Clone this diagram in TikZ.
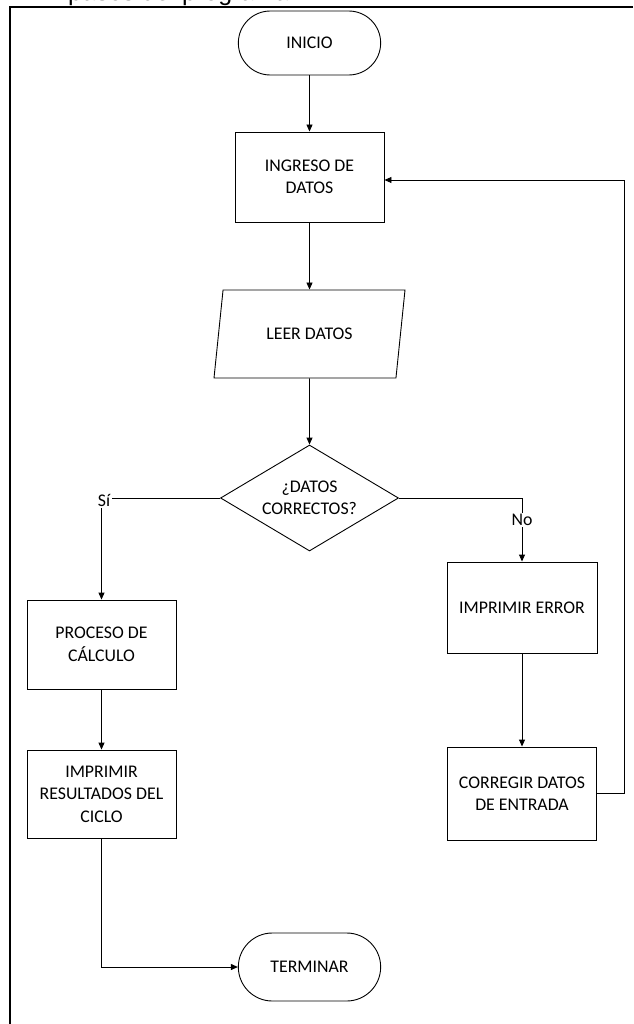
\documentclass[tikz,border=0pt]{standalone}
\usepackage{fontspec}
\setmainfont{Carlito}
\newfontfamily\arialfont{Liberation Sans}
\usetikzlibrary{arrows.meta,shapes.geometric,shapes.misc}
\tikzset{
  txt/.style={font=\fontsize{17.8}{22.5}\selectfont, text=black},
  box/.style={txt, draw=black, line width=0.9pt, rectangle, minimum width=149pt, minimum height=90pt, align=center, inner sep=2pt},
  termbox/.style={txt, draw=black, line width=0.9pt, rounded rectangle, minimum width=149pt, minimum height=64pt, align=center},
  parabox/.style={txt, draw=black, line width=0.9pt, trapezium, trapezium left angle=60, trapezium right angle=120, trapezium stretches body=true, minimum width=191pt, minimum height=88pt, align=center, inner sep=2pt},
  decbox/.style={txt, draw=black, line width=0.9pt, diamond, shape aspect=1.68, minimum width=178pt, minimum height=106pt, inner sep=0pt, align=center},
  lbl/.style={txt, inner sep=1.5pt},
  conn/.style={draw=black, line width=0.9pt},
  arr/.style={conn, -{Triangle[length=7pt,width=6pt]}},
}
\begin{document}
\begin{tikzpicture}[x=1pt,y=-1pt]
\useasboundingbox (0,0) rectangle (633,1024);
% caption fragment and frame
\node[anchor=base west, inner sep=0pt, font=\arialfont\fontsize{25}{30}\selectfont] (cap) at (68,0.5) {pasos del programa};
\draw[line width=2pt] (633,7) -- (9.5,7) -- (9.5,1024);

% nodes
\node[termbox] (inicio) at (309.5,43) {INICIO};
\node[box] (ingreso) at (309.5,177) {INGRESO DE\\DATOS};
\node[parabox] (leer) at (309.5,334) {LEER DATOS};
\node[decbox] (dec) at (309.5,498) {¿DATOS\\CORRECTOS?};
\node[lbl] (si) at (104,500) {Sí};
\node[lbl] (no) at (522,520) {No};
\node[box, minimum height=89pt] (proc) at (101.5,644.5) {PROCESO DE\\CÁLCULO};
\node[box, minimum height=88pt] (res) at (101.5,794) {IMPRIMIR\\RESULTADOS DEL\\CICLO};
\node[box, minimum width=150pt, minimum height=91pt] (err) at (522,607.5) {IMPRIMIR ERROR};
\node[box, minimum height=93pt] (corr) at (522,793.5) {CORREGIR DATOS\\DE ENTRADA};
\node[termbox, minimum height=68pt] (fin) at (309.5,967) {TERMINAR};

% connectors
\draw[arr] (inicio.south) -- (ingreso.north);
\draw[arr] (ingreso.south) -- (leer.north);
\draw[arr] (leer.south) -- (dec.north);
\draw[conn] (dec.west) -- (dec.west -| si.east);
\draw[arr] (proc.north |- si.south) -- (proc.north);
\draw[conn] (dec.east) -| (no.north);
\draw[arr] (no.south) -- (err.north);
\draw[arr] (err.south) -- (corr.north);
\draw[arr] (corr.east) -- ++(27,0) |- ([yshift=-3pt]ingreso.east);
\draw[arr] (proc.south) -- (res.north);
\draw[arr] (res.south) |- (fin.west);
\end{tikzpicture}
\end{document}
